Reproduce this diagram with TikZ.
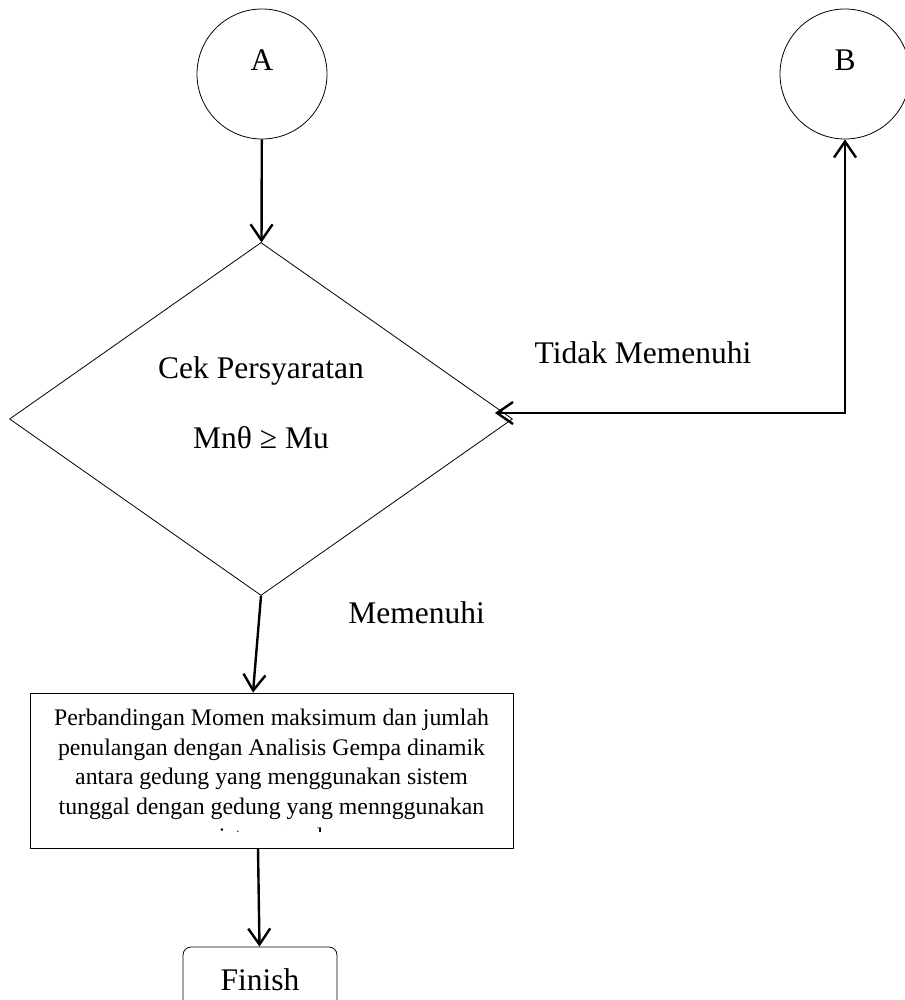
\documentclass[tikz,border=0pt]{standalone}
\usepackage{fontspec}
\setmainfont{Liberation Serif}
\usetikzlibrary{shapes.geometric, arrows.meta, positioning}

\begin{document}
\begin{tikzpicture}[%
    x=1pt, y=-1pt,
    every node/.style={
        font=\fontsize{31.5}{38}\selectfont,
    },
    conn/.style={circle, draw, line width=0.8pt, minimum size=130pt, inner sep=0pt, text depth=28pt},
    check/.style={diamond, draw, line width=0.8pt, minimum width=503pt, minimum height=353pt,
        inner sep=0pt, align=center, text depth=33pt},
    result/.style={rectangle, draw, line width=0.8pt, minimum width=483pt, minimum height=155pt},
    finishbox/.style={rectangle, rounded corners=8pt, draw, line width=0.8pt,
        minimum width=154pt, minimum height=65pt},
    arr/.style={line width=2.4pt, -{Straight Barb[length=16pt, width=22pt]}},
    arrboth/.style={line width=2.4pt, {Straight Barb[length=16pt, width=22pt]}-{Straight Barb[length=16pt, width=22pt]}},
]

\useasboundingbox (0,0) rectangle (904,1000);

% connectors A and B
\node[conn] (A) at (262,74) {A};
\node[conn] (B) at (845,74) {B};

% check
\node[check] (cek) at (261,419) {Cek Persyaratan\\[32pt]Mnθ ≥ Mu};

% result box
\node[result] (banding) at (271.5,770.5) {};
\begin{scope}
    \clip (banding.north west) rectangle ([yshift=17pt]banding.south east);
    \node[font=\fontsize{23.8}{29.7}\selectfont, align=center, anchor=north, inner sep=0pt] (bandingtext)
        at ([yshift=-16pt]banding.north) {Perbandingan Momen maksimum dan jumlah\\
        penulangan dengan Analisis Gempa dinamik\\
        antara gedung yang menggunakan sistem\\
        tunggal dengan gedung yang mennggunakan\\
        sistem ganda};
\end{scope}

\node[finishbox] (finish) at (260,979.5) {Finish};

% labels
\node[anchor=base] (no) at (643,363) {Tidak Memenuhi};
\node[anchor=base] (yes) at (416.5,623) {Memenuhi};

% arrows
\draw[arr] (A) -- (cek);
\draw[arr] (cek.south) -- ([xshift=-18.5pt]banding.north);
\draw[arr] ([xshift=-13.5pt]banding.south) -- (finish);
\draw[arrboth] ([xshift=-18pt, yshift=6pt]cek.east) -| (B.south);

\end{tikzpicture}
\end{document}
